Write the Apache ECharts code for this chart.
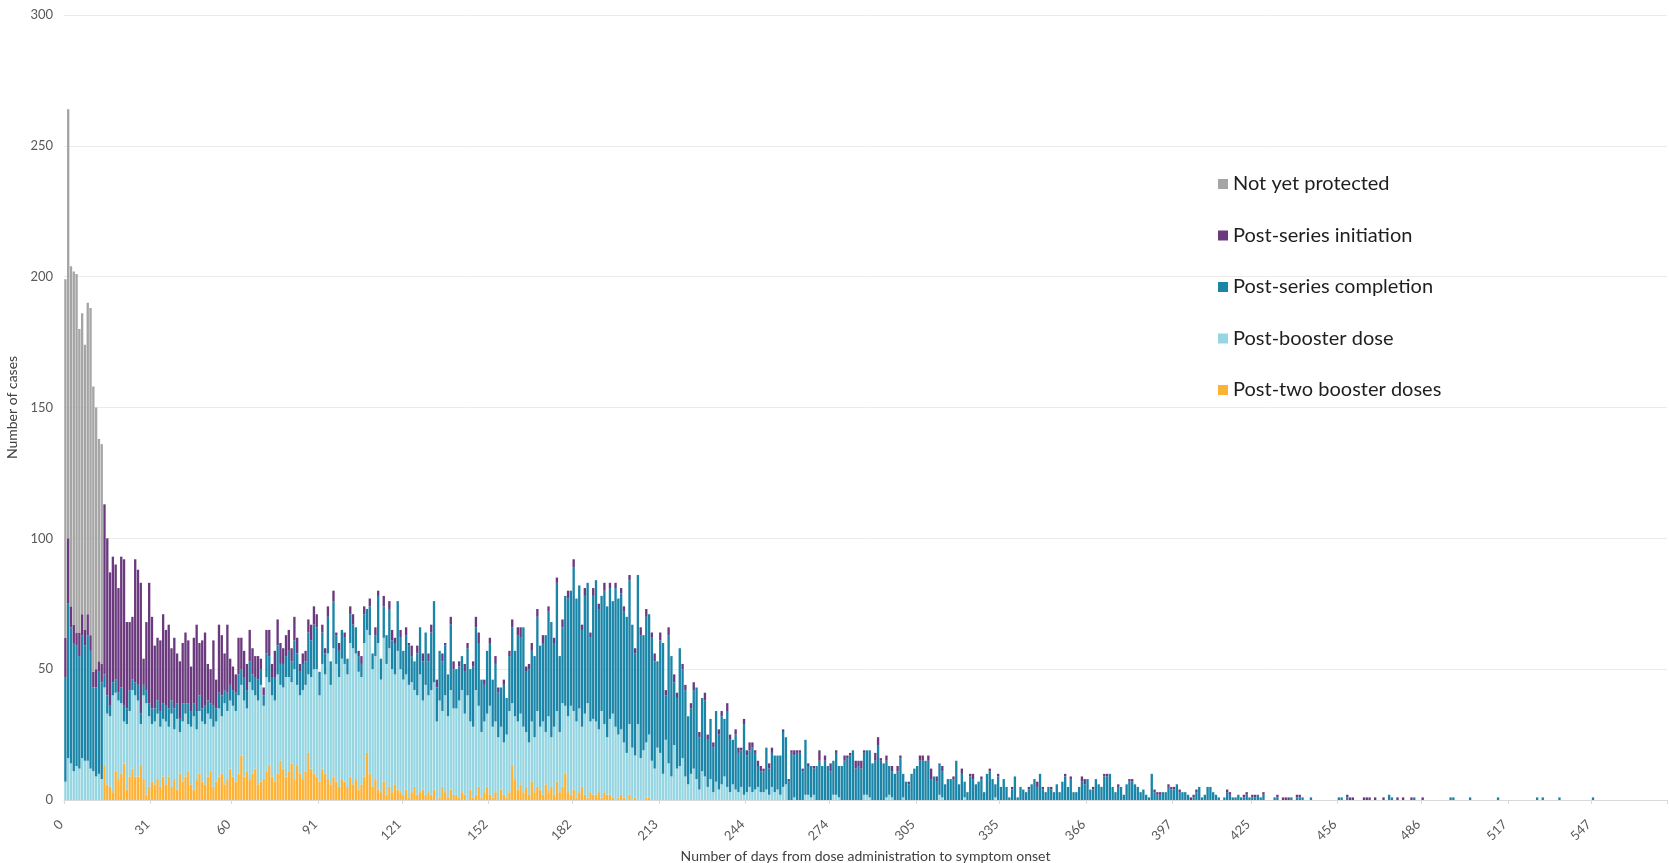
<!DOCTYPE html>
<html>
<head>
<meta charset="utf-8">
<script src="https://cdn.jsdelivr.net/npm/echarts@6/dist/echarts.min.js"></script>
<style>
html,body{margin:0;padding:0;background:#fff;}
#chart{width:1669px;height:863px;}
</style>
</head>
<body>
<div id="chart"></div>
<script>
// ---- DATA ----
const dayCount = 574; // categories: days 0..573
const days = Array.from({length: dayCount}, (_, i) => String(i));
const tickLabels = [0,31,60,91,121,152,182,213,244,274,305,335,366,397,425,456,486,517,547];
const seriesNames = ['Not yet protected','Post-series initiation','Post-series completion','Post-booster dose','Post-two booster doses'];

const notYetProtected = [
137,164,130,135,137,116,115,109,119,125,
109,100,85,84
];

const postSeriesInitiation = [
15,25,8,7,5,9,8,6,8,6,
6,7,4,7,65,60,51,48,44,40,
50,56,33,26,24,47,44,50,10,26,
46,35,24,24,27,34,29,32,20,27,
19,22,23,27,24,17,25,33,20,26,
28,14,13,25,11,26,23,14,26,10,
9,7,14,12,10,10,12,10,8,9,
4,3,9,10,5,10,10,8,6,8,
8,5,9,6,3,4,4,5,6,7,
5,0,3,2,4,0,4,1,3,0,
2,0,3,4,0,2,3,3,0,3,
0,3,2,0,4,0,3,4,2,0,
3,0,3,1,4,0,3,0,3,0,
3,3,0,3,0,3,1,0,3,3,
0,2,0,3,2,0,2,4,4,0,
2,0,2,0,3,2,0,2,0,2,
3,0,3,4,0,2,2,3,0,3,
0,3,0,2,0,2,2,0,3,0,
3,0,3,0,0,2,3,0,2,3,
0,2,0,3,0,2,0,2,0,2,
2,0,2,0,2,0,3,0,3,0,
2,3,0,3,0,2,3,0,3,2,
0,2,2,0,2,3,0,2,0,3,
2,0,2,0,2,2,0,3,2,0,
2,2,1,2,2,3,2,1,2,2,
1,0,2,2,0,0,0,1,0,1,
1,2,1,1,1,0,1,0,1,0,
4,0,2,0,3,0,1,0,0,2,
1,1,0,3,2,3,1,0,0,0,
3,3,1,0,2,0,2,0,2,1,
0,0,1,0,0,0,2,2,0,2,
4,0,2,0,2,0,0,0,1,0,
0,2,0,0,1,2,0,0,1,0,
0,1,0,0,1,0,0,0,0,1,
0,0,0,0,0,1,0,0,2,0,
1,0,0,1,0,0,0,0,1,0,
1,0,0,0,2,2,0,0,1,0,
0,0,1,1,0,0,0,1,0,0,
0,1,1,0,0,0,0,0,0,0,
1,1,1,0,0,1,1,1,0,1,
0,0,0,1,1,1,0,0,0,0,
0,0,0,0,0,0,1,1,0,0,
0,0,1,1,0,1,1,0,0,1,
0,0,0,0,1,0,1,1,1,0,
0,1,1,0,0,0,0,0,0,0,
0,0,0,0,0,0,0,0,0,1,
1,1,0,0,0,1,1,1,0,1,
0,0,1,0,0,0,0,1,0,1,
0,0,1,0,0,0,1
];

const postSeriesCompletion = [
40,59,52,49,46,43,47,44,48,45,
32,34,39,37,5,7,4,5,5,3,
6,6,6,8,4,5,6,4,4,5,
5,6,5,5,6,6,6,7,5,8,
6,5,7,4,8,6,5,7,6,5,
7,5,6,8,5,6,8,5,7,6,
6,7,8,6,9,7,8,6,7,8,
6,4,9,10,7,9,11,8,9,8,
10,8,11,12,9,10,9,16,14,17,
16,9,12,8,14,9,18,11,10,11,
10,6,11,9,10,6,5,11,8,11,
6,8,18,8,12,11,15,11,12,19,
12,11,15,15,10,11,16,18,15,20,
13,22,31,13,19,19,19,16,25,15,
15,13,13,16,18,20,23,24,24,20,
14,24,24,18,22,17,15,22,14,21,
29,25,33,29,38,23,28,27,31,36,
31,30,37,40,44,32,49,29,29,42,
45,44,55,47,47,37,45,46,32,47,
54,46,44,51,50,50,43,53,52,52,
50,52,55,47,39,57,47,44,48,46,
47,41,33,43,50,17,49,46,24,27,
45,34,33,26,25,30,35,20,28,29,
18,23,17,27,21,26,22,29,20,17,
21,15,14,27,14,14,17,14,8,8,
8,16,10,13,14,13,15,21,18,7,
18,16,18,18,11,21,11,12,10,13,
15,13,15,13,11,13,16,12,13,15,
16,17,19,12,13,12,16,17,18,14,
15,21,15,14,14,11,10,10,11,16,
9,7,6,10,12,13,15,15,15,15,
8,9,7,12,10,6,8,8,8,15,
6,10,6,3,9,8,6,7,8,3,
10,11,8,5,9,5,8,5,1,4,
9,1,5,4,3,4,6,8,5,10,
4,3,5,4,3,6,3,7,9,5,
8,3,3,5,7,6,8,4,4,8,
6,5,9,9,10,5,3,5,5,2,
6,7,7,6,5,3,4,2,1,10,
3,2,2,3,3,5,4,4,6,3,
3,3,2,0,1,3,5,1,2,5,
5,3,2,1,0,1,3,2,1,1,
2,1,1,2,1,1,1,2,1,2,
0,0,0,1,1,0,0,0,0,1,
0,1,1,1,0,0,1,0,0,0,
0,0,0,0,0,0,1,1,0,1,
0,0,0,0,0,0,0,0,0,0,
0,0,0,0,2,1,0,0,0,0,
0,0,0,1,0,0,0,0,0,0,
0,0,0,0,0,0,1,1,0,0,
0,0,0,1,0,0,0,0,0,0,
0,0,0,1,0,0,0,0,0,0,
0,0,0,0,0,0,0,1,0,1,
0,0,0,0,0,1,0,0,0,0,
0,0,0,0,0,0,0,1
];

const postBooster = [
7,16,14,11,13,12,16,15,15,12,
11,9,10,8,30,27,27,37,30,30,
27,16,25,25,30,31,29,16,32,35,
27,22,24,25,23,22,24,19,28,19,
27,16,23,24,18,22,28,19,24,23,
23,24,20,23,23,26,22,31,26,26,
27,27,30,27,29,24,37,32,28,32,
37,28,36,32,31,31,38,29,31,38,
36,31,42,31,30,34,33,30,35,40,
41,33,40,38,48,38,49,45,42,46,
45,43,51,52,48,45,41,51,47,53,
45,47,56,43,55,50,53,47,42,53,
47,44,44,43,42,37,38,45,34,42,
37,40,41,30,37,29,37,31,38,33,
33,37,39,31,40,26,27,40,31,25,
27,28,34,27,27,24,24,20,24,31,
24,24,26,27,25,21,20,23,21,29,
24,28,20,29,19,26,27,23,32,26,
29,34,30,29,32,23,31,36,27,29,
28,24,33,26,22,29,32,28,24,25,
21,18,27,20,16,29,16,19,21,24,
15,12,20,18,10,23,14,9,21,12,
13,16,9,6,10,12,8,4,11,9,
5,8,3,7,4,6,9,5,3,6,
4,3,5,2,3,5,3,4,5,3,
3,4,2,5,3,4,2,5,6,0,
0,1,0,0,0,2,2,1,2,0,
0,0,0,0,0,2,2,1,0,0,
0,0,0,0,0,0,2,2,1,0,
0,0,0,0,1,2,1,0,0,0,
1,0,0,0,0,0,0,0,0,0,
0,0,0,2,1,0,0,0,0,0,
0,0,1,0,0,0,0,0,0,0,
0,0,0,1
];

const postTwoBoosters = [
0,0,0,0,0,0,0,0,0,0,
0,0,0,0,13,6,5,3,11,8,
10,14,4,9,12,9,9,13,8,2,
5,7,6,8,5,9,6,9,5,8,
4,10,7,9,11,6,4,8,10,7,
6,9,11,5,7,9,10,6,8,12,
9,7,10,17,9,11,8,10,12,6,
7,8,11,13,9,7,10,15,12,9,
11,14,8,13,10,8,11,18,12,10,
9,7,12,10,8,6,9,7,5,8,
7,5,9,6,8,4,6,9,18,10,
5,8,4,3,7,2,5,3,6,4,
3,2,4,1,3,5,2,3,4,2,
3,2,4,0,1,5,3,1,4,2,
2,1,3,2,0,4,1,2,5,1,
3,5,2,1,3,0,4,2,1,3,
13,8,4,6,3,5,2,7,3,5,
4,2,6,3,5,2,7,3,5,10,
3,2,4,1,3,5,2,1,3,2,
2,3,1,3,2,2,1,0,1,2,
1,0,2,0,1,0,0,0,1,1
];

const colors = {
  'Not yet protected': '#A5A5A5',
  'Post-series initiation': '#6B3A7E',
  'Post-series completion': '#1B85A8',
  'Post-booster dose': '#96D6E2',
  'Post-two booster doses': '#FDB235'
};

// ---- CHART ----
const tickSet = new Set(tickLabels);
const FONT = 'Lato';
const chart = echarts.init(document.getElementById('chart'), null, {renderer: 'canvas'});

function mkSeries(name, data) {
  return {
    name: name,
    type: 'bar',
    stack: 'all',
    data: data,
    barCategoryGap: '16%',
    itemStyle: {color: colors[name]},
    emphasis: {disabled: true}
  };
}

chart.setOption({
  animation: false,
  textStyle: {fontFamily: FONT},
  grid: {left: 64, right: 2, top: 15, bottom: 63, containLabel: false, outerBoundsMode: 'none'},
  legend: {
    orient: 'vertical',
    left: 1218,
    top: 174,
    padding: 0,
    itemGap: 31.5,
    itemWidth: 10,
    itemHeight: 10,
    icon: 'rect',
    selectedMode: false,
    data: seriesNames,
    textStyle: {fontFamily: FONT, fontSize: 20, color: '#1f1f1f', lineHeight: 20}
  },
  xAxis: {
    type: 'category',
    data: days,
    name: 'Number of days from dose administration to symptom onset',
    nameLocation: 'middle',
    nameGap: 33,
    nameTextStyle: {fontFamily: FONT, fontSize: 14, color: '#404040'},
    axisLine: {lineStyle: {color: '#D9D9D9', width: 1}},
    axisTick: {show: true, interval: (i) => tickSet.has(i), length: 4, lineStyle: {color: '#D9D9D9'}},
    axisLabel: {
      interval: (i) => tickSet.has(i),
      rotate: 45,
      fontFamily: FONT,
      fontSize: 13,
      color: '#595959',
      margin: 18,
      padding: [0, 6, 0, 0]
    },
    splitLine: {show: false}
  },
  yAxis: {
    type: 'value',
    min: 0,
    max: 300,
    interval: 50,
    name: 'Number of cases',
    nameLocation: 'middle',
    nameGap: 31,
    nameTextStyle: {fontFamily: FONT, fontSize: 14, color: '#404040'},
    axisLine: {show: false},
    axisTick: {show: false},
    axisLabel: {fontFamily: FONT, fontSize: 13, color: '#595959', margin: 11},
    splitLine: {lineStyle: {color: '#EBEBEB', width: 1}}
  },
  series: [
    mkSeries('Post-two booster doses', postTwoBoosters),
    mkSeries('Post-booster dose', postBooster),
    mkSeries('Post-series completion', postSeriesCompletion),
    mkSeries('Post-series initiation', postSeriesInitiation),
    mkSeries('Not yet protected', notYetProtected)
  ]
});
</script>
</body>
</html>
